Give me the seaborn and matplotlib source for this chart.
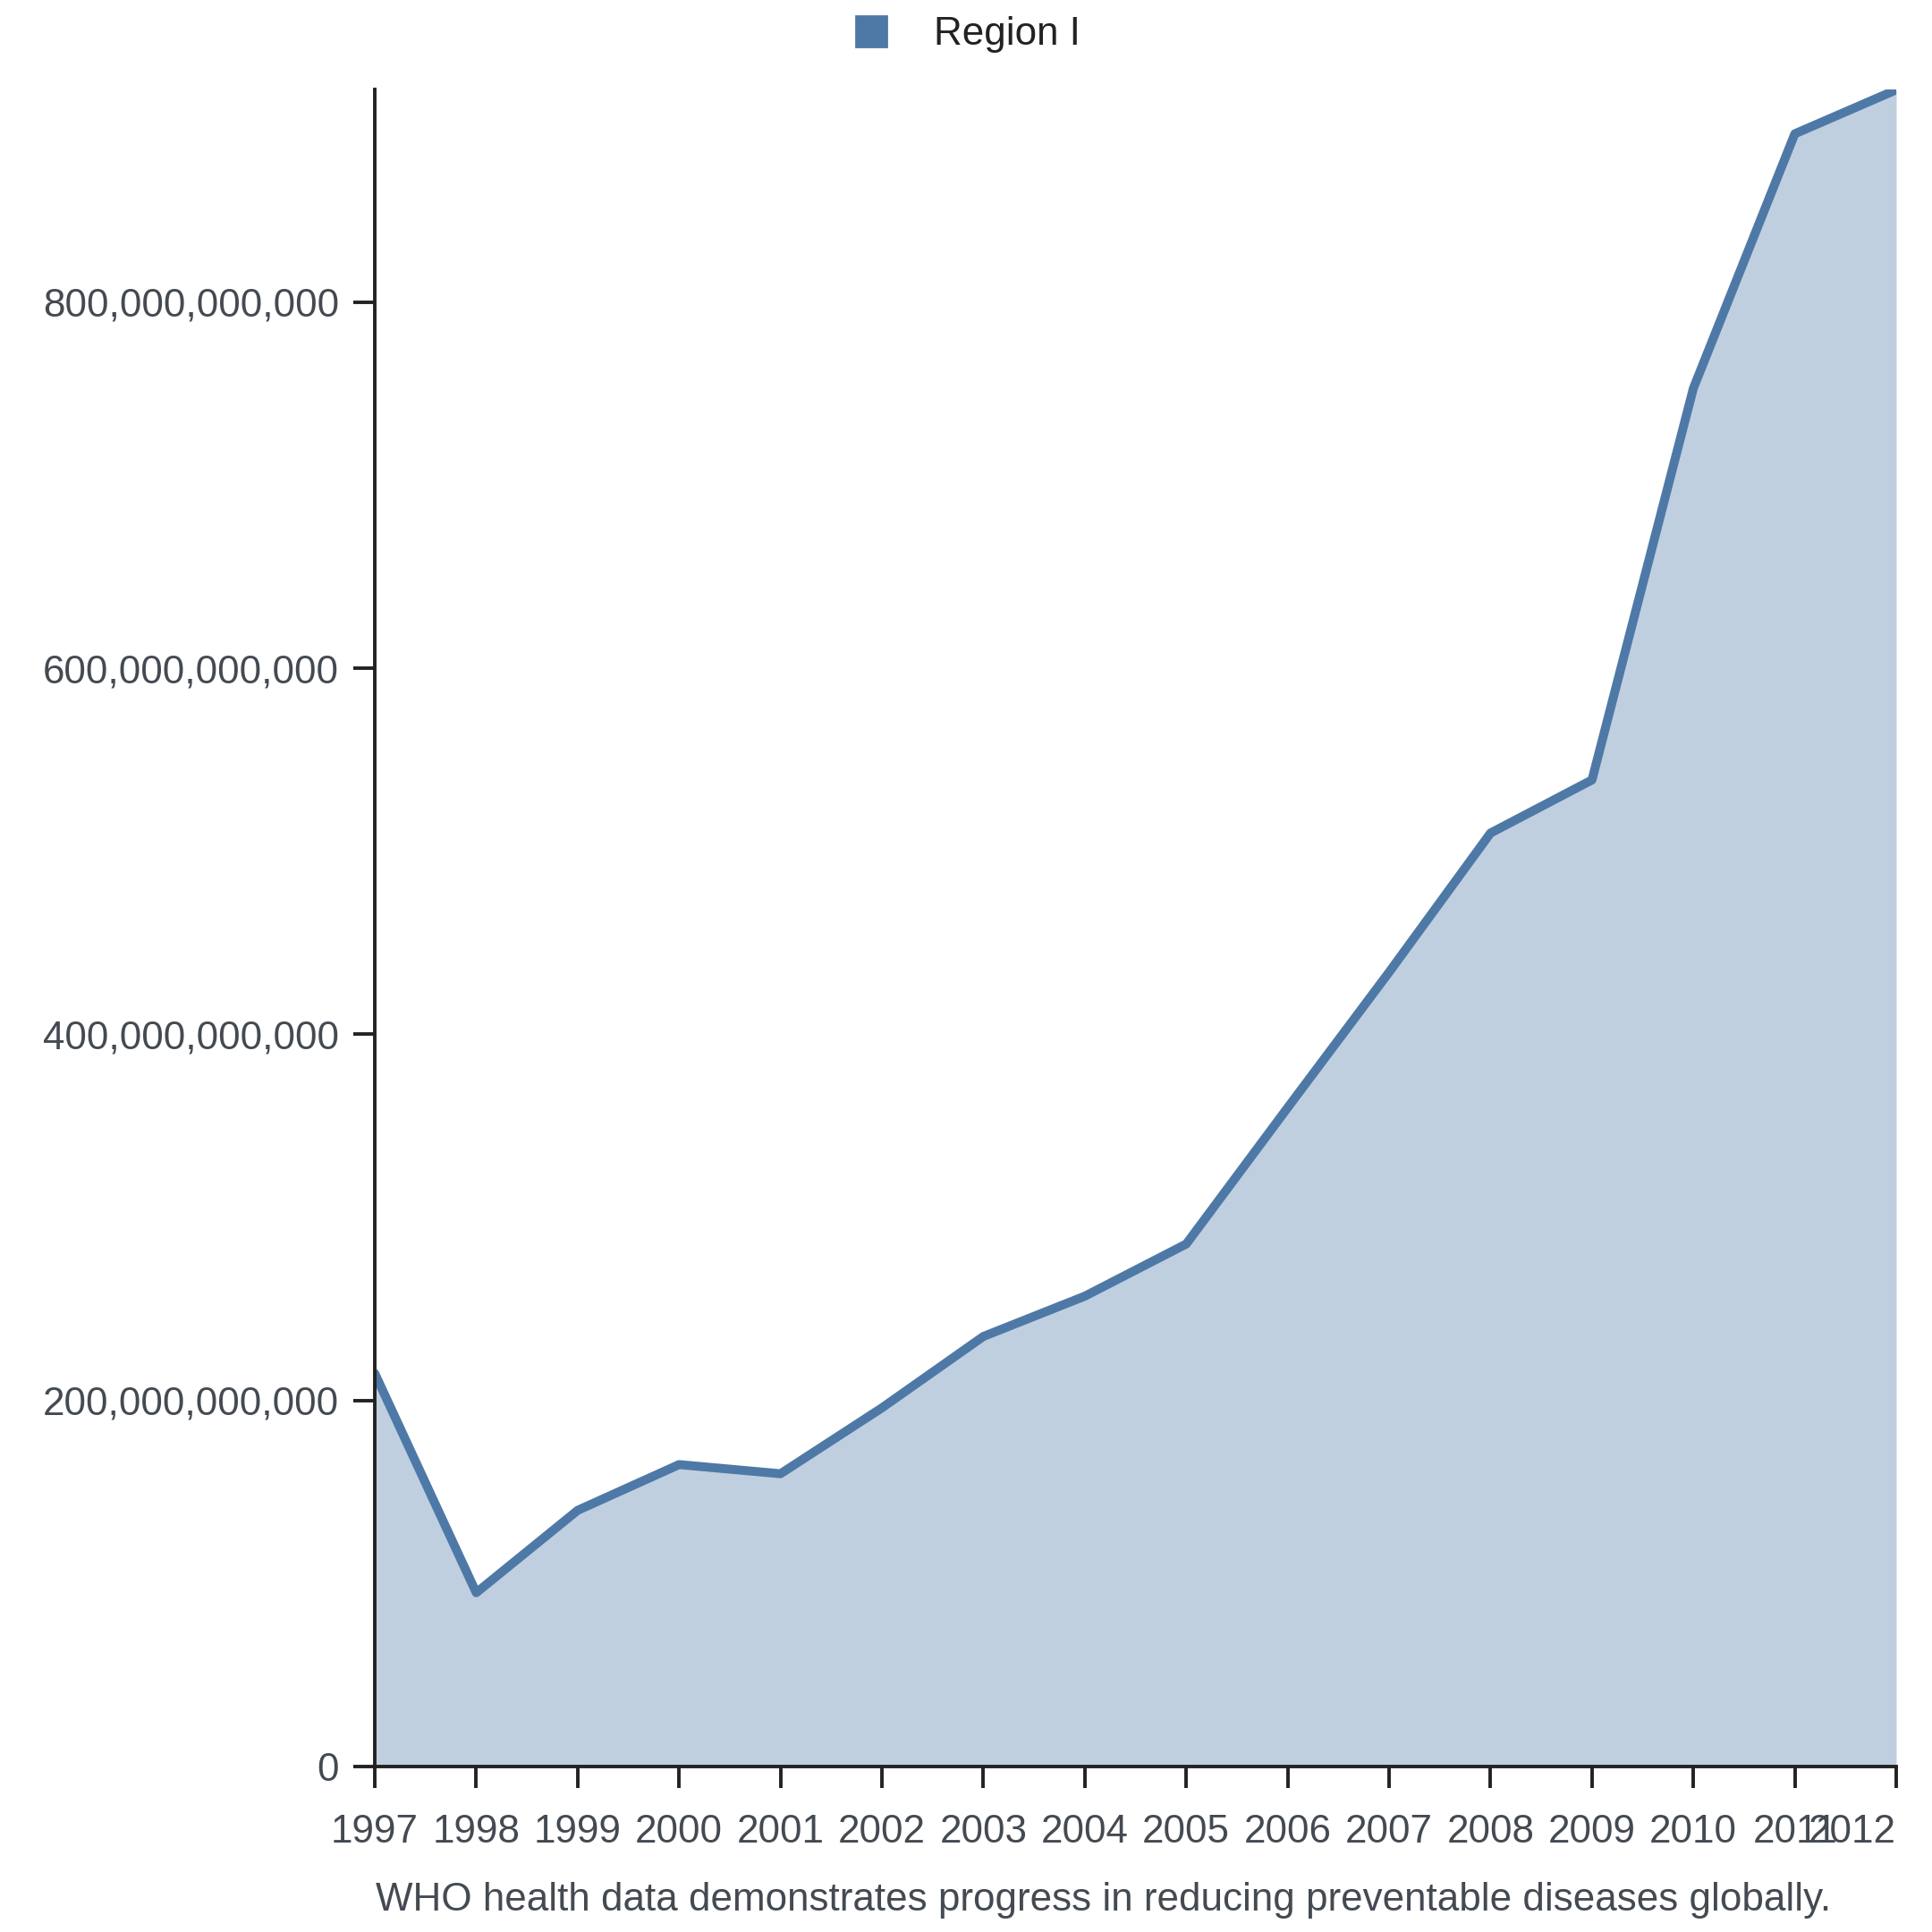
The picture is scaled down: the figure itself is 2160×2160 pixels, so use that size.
import numpy as np
import pandas as pd
import seaborn as sns
import matplotlib.pyplot as plt
from matplotlib.lines import Line2D
from matplotlib.ticker import FuncFormatter

# Dados
anos = [1997, 1998, 1999, 2000, 2001, 2002, 2003, 2004,
        2005, 2006, 2007, 2008, 2009, 2010, 2011, 2012]
valores = [214.8, 95.0, 140.0, 165.0, 160.0, 196.0, 235.0, 257.0,
           285.5, 360.0, 434.0, 510.0, 539.0, 753.0, 892.0, 916.0]
serie = "Region I"
legenda = "WHO health data demonstrates progress in reducing preventable diseases globally."

dados = pd.DataFrame({"ano": anos, "valor": np.array(valores) * 1e9})

sns.set_style("ticks")
plt.rcParams['font.family'] = ['Liberation Sans', 'DejaVu Sans']

cor_linha = "#4e79a7"
cor_area = "#c0cfe0"
tam = 15.85

fig = plt.figure(figsize=(10.8, 10.8), dpi=200)
ax = fig.add_axes([0.194, 0.0856, 0.7875, 0.8679])

ax.fill_between(dados["ano"], 0, dados["valor"], color=cor_area, linewidth=0)
sns.lineplot(data=dados, x="ano", y="valor", ax=ax, color=cor_linha,
             linewidth=3.6, legend=False)

ax.set_xlim(anos[0], anos[-1])
ax.set_ylim(0, dados["valor"].max())
ax.set_xticks(anos)
ax.set_xticklabels([str(a) for a in anos])
ax.set_yticks([0, 200e9, 400e9, 600e9, 800e9])
ax.yaxis.set_major_formatter(FuncFormatter(lambda v, p: f"{v:,.0f}"))
ax.set_xlabel("")
ax.set_ylabel("")

sns.despine(ax=ax)
for s in ["left", "bottom"]:
    ax.spines[s].set_linewidth(1.4)
    ax.spines[s].set_color("#222222")
ax.tick_params(axis="both", colors="#222222", width=1.4, length=8.5,
               labelsize=tam, labelcolor="#444a52")
ax.tick_params(axis="x", pad=10.5)
ax.tick_params(axis="y", pad=6)

# último rótulo alinhado à direita como no original
ax.get_xticklabels()[-1].set_horizontalalignment("right")
ax.get_xticklabels()[-1].set_x(anos[-1])

handle = Line2D([0], [0], marker="s", linestyle="", markersize=12.5,
                markerfacecolor=cor_linha, markeredgecolor=cor_linha)
fig.legend([handle], [serie], loc="center", bbox_to_anchor=(0.5, 0.982),
           frameon=False, fontsize=tam, handletextpad=1.1, handlelength=1.0,
           labelcolor="#222222")

fig.text(0.571, 0.0165, legenda, ha="center", va="center",
         fontsize=tam, color="#444a52")

fig.savefig("out.png", dpi=200)
